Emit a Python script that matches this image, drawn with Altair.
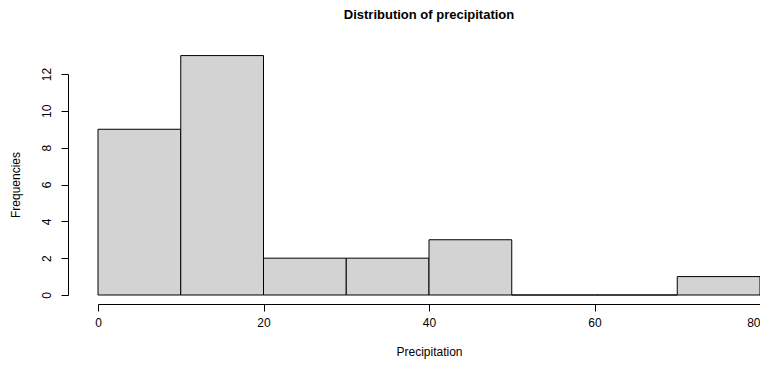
import altair as alt
import pandas as pd

bin_start = [0, 10, 20, 30, 40, 50, 60, 70]
bin_end = [10, 20, 30, 40, 50, 60, 70, 80]
counts = [9, 13, 2, 2, 3, 0, 0, 1]

df = pd.DataFrame({"start": bin_start, "end": bin_end, "count": counts})

FONT = "Liberation Sans"

bars = alt.Chart(df).mark_rect(
    fill="#D3D3D3", stroke="black", strokeWidth=1
).encode(
    x=alt.X("start:Q",
            scale=alt.Scale(domain=[0, 80], nice=False, zero=False),
            axis=alt.Axis(values=[0, 20, 40, 60, 80], title="Precipitation",
                          grid=False, offset=9, tickSize=7, tickColor="black",
                          domainColor="black", labelPadding=6, labelFontSize=12,
                          labelColor="black", labelFont=FONT, titleFont=FONT,
                          titleFontSize=12, titleFontWeight="normal",
                          titleColor="black", titlePadding=18, labelFlush=False,
                          labelAlign={"condition": {"test": "datum.value == 80",
                                                    "value": "right"},
                                      "value": "center"})),
    x2="end:Q",
    y=alt.Y("count:Q",
            scale=alt.Scale(domain=[0, 12], nice=False, zero=False),
            axis=alt.Axis(values=[0, 2, 4, 6, 8, 10, 12], title="Frequencies",
                          grid=False, offset=30, tickSize=7, tickColor="black",
                          domainColor="black", labelAngle=270, labelAlign="center",
                          labelBaseline="bottom", labelPadding=8, labelFontSize=12,
                          labelColor="black", labelFont=FONT, titleFont=FONT,
                          titleFontSize=12, titleFontWeight="normal",
                          titleColor="black", titlePadding=18, labelFlush=False)),
    y2=alt.datum(0),
)

chart = bars.properties(
    width=662,
    height=221,
    autosize=alt.AutoSizeParams(type="none"),
    padding={"left": 90, "top": 66, "right": 0, "bottom": 64},
    title=alt.TitleParams("Distribution of precipitation", font=FONT, fontSize=13,
                          fontWeight="bold", color="black", anchor="middle",
                          frame="group", offset=33),
).configure_view(stroke=None)

chart.save("out.html", embed_options={"renderer": "svg", "actions": False})
